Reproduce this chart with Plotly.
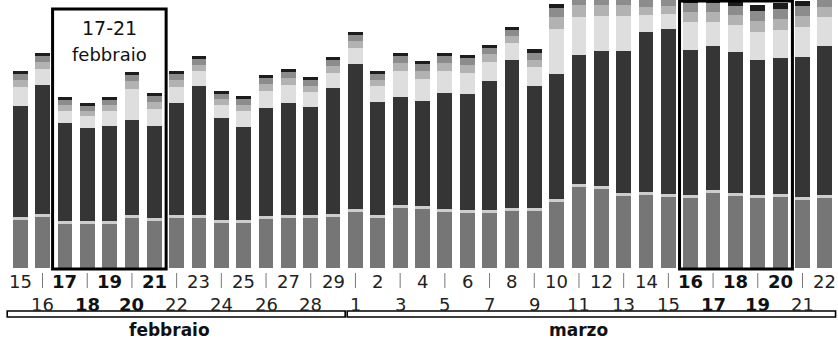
import plotly.graph_objects as go

# ---------------- data ----------------
days = [15, 16, 17, 18, 19, 20, 21, 22, 23, 24, 25, 26, 27, 28, 29,
        1, 2, 3, 4, 5, 6, 7, 8, 9, 10, 11, 12, 13, 14, 15, 16, 17, 18, 19, 20, 21, 22]
months = ["febbraio"] * 15 + ["marzo"] * 22
bold_days = [("febbraio", 17), ("febbraio", 18), ("febbraio", 19), ("febbraio", 20), ("febbraio", 21),
             ("marzo", 16), ("marzo", 17), ("marzo", 18), ("marzo", 19), ("marzo", 20)]

bottom = [48, 51, 44, 44, 44, 50, 47, 50, 50, 45, 45, 49, 50, 50, 51,
          56, 50, 60, 59, 56, 55, 55, 57, 57, 66, 81, 79, 72, 73, 71, 70, 75, 72, 70, 71, 68, 70]
strip = [3] * 37
dark = [111, 129, 98, 93, 95, 95, 92, 112, 129, 102, 93, 108, 112, 108, 126,
        145, 113, 108, 105, 116, 116, 129, 148, 122, 125, 129, 135, 142, 160, 165, 145, 144, 141, 135, 136, 140, 149]
light = [19, 16, 12, 12, 15, 31, 17, 16, 15, 13, 16, 17, 18, 15, 15,
         16, 16, 26, 22, 22, 21, 19, 17, 19, 45, 38, 35, 35, 17, 15, 28, 24, 27, 28, 28, 30, 29]
gray1 = [7, 7, 6, 5, 6, 8, 7, 7, 6, 6, 6, 7, 7, 6, 7,
         7, 6, 8, 8, 8, 8, 8, 7, 7, 12, 12, 11, 11, 8, 8, 10, 10, 10, 11, 11, 11, 10]
gray2 = [6, 6, 5, 5, 5, 6, 6, 6, 6, 5, 6, 6, 6, 6, 6,
         6, 6, 7, 7, 7, 7, 6, 6, 7, 9, 9, 9, 9, 8, 7, 9, 9, 9, 10, 10, 10, 9]
topk = [3, 3, 3, 3, 3, 3, 3, 3, 3, 3, 3, 3, 3, 3, 3,
        3, 3, 3, 3, 3, 3, 3, 3, 4, 4, 4, 4, 4, 4, 4, 5, 5, 5, 6, 6, 5, 4]

YMAX = 268
N = len(days)
x = list(range(N))

layers = [
    ("base", bottom, "#767676"),
    ("strip", strip, "#cdcdcd"),
    ("dark", dark, "#353535"),
    ("light", light, "#dedede"),
    ("gray1", gray1, "#b2b2b2"),
    ("gray2", gray2, "#8c8c8c"),
    ("top", topk, "#1c1c1c"),
]

fig = go.Figure()
for name, vals, col in layers:
    fig.add_bar(x=x, y=vals, name=name, marker=dict(color=col, line=dict(width=0)),
                hoverinfo="skip")

def px_x(i):
    return (i + 0.5) / N

def px_y(py):
    return (YMAX - py) / YMAX

shapes = []
annotations = []
FONT = "DejaVu Sans"

def note(xp, yp, text, size, color="#111"):
    annotations.append(dict(x=xp, y=yp, xref="paper", yref="paper", text=text,
                            showarrow=False, xanchor="center", yanchor="middle",
                            font=dict(family=FONT, size=size, color=color)))

for i, (d, m) in enumerate(zip(days, months)):
    is_bold = (m, d) in bold_days
    txt = f"<b>{d}</b>" if is_bold else str(d)
    ypos = px_y(281) if i % 2 == 0 else px_y(304)
    note(px_x(i), ypos, txt, 18, "#111" if is_bold else "#222")
    if i % 2 == 1:
        shapes.append(dict(type="line", xref="paper", yref="paper",
                           x0=px_x(i), x1=px_x(i), y0=px_y(273), y1=px_y(288),
                           line=dict(color="#777", width=1)))

# highlight boxes
first_feb = bold_days[0][1] - days[0]
last_feb = bold_days[4][1] - days[0]
i_mar16 = 15 + bold_days[5][1] - 1
i_mar20 = 15 + bold_days[9][1] - 1
shapes.append(dict(type="rect", xref="paper", yref="paper",
                   x0=px_x(first_feb - 0.55), x1=px_x(last_feb + 0.53), y0=px_y(269), y1=px_y(9),
                   line=dict(color="black", width=3), fillcolor="rgba(0,0,0,0)"))
shapes.append(dict(type="rect", xref="paper", yref="paper",
                   x0=px_x(i_mar16 - 0.5), x1=px_x(i_mar20 + 0.55), y0=px_y(269), y1=px_y(1),
                   line=dict(color="black", width=3), fillcolor="rgba(0,0,0,0)"))
box_cx = (px_x(first_feb - 0.55) + px_x(last_feb + 0.53)) / 2
note(box_cx, px_y(28), "17-21", 19)
note(box_cx, px_y(54), "febbraio", 18)

# month brackets
shapes.append(dict(type="rect", xref="paper", yref="paper",
                   x0=px_x(-0.58), x1=px_x(14.54), y0=px_y(317), y1=px_y(311),
                   line=dict(color="black", width=1.6), fillcolor="white"))
shapes.append(dict(type="rect", xref="paper", yref="paper",
                   x0=px_x(14.63), x1=px_x(36.48), y0=px_y(317), y1=px_y(311),
                   line=dict(color="black", width=1.6), fillcolor="white"))
note(px_x(6.7), px_y(330), "<b>febbraio</b>", 17)
note(px_x(25.0), px_y(330), "<b>marzo</b>", 17)

fig.update_layout(barmode="stack", bargap=0.34, width=838, height=339,
                  margin=dict(l=9, r=2, t=0, b=71), plot_bgcolor="white", paper_bgcolor="white",
                  showlegend=False, shapes=shapes, annotations=annotations)
fig.update_xaxes(range=[-0.5, N - 0.5], visible=False)
fig.update_yaxes(range=[0, YMAX], visible=False)

fig.write_html("out.html", config={"displayModeBar": False},
               post_script="document.body.style.margin='0';document.body.style.overflow='hidden';")
